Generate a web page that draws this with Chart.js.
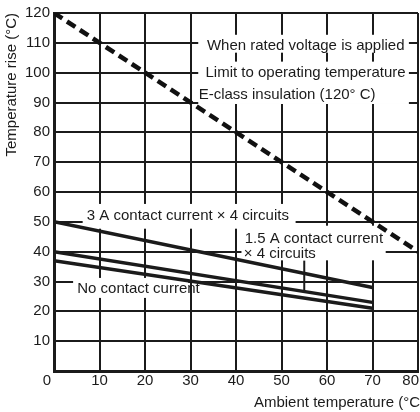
<!DOCTYPE html>
<html>
<head>
<meta charset="utf-8">
<script src="https://cdn.jsdelivr.net/npm/chart.js@4/dist/chart.umd.min.js"></script>
<style>
  html, body { margin: 0; padding: 0; background: #fff; overflow: hidden; }
  #wrap { width: 420px; height: 412px; overflow: hidden; }
  canvas { display: block; }
</style>
</head>
<body>
<div id="wrap"><canvas id="chart" width="440" height="412"></canvas></div>
<script>
// ambient temperature (°C) on x, temperature rise (°C) on y
const xTickValues = [0, 10, 20, 30, 40, 50, 60, 70, 80];
const xTickLabels = ['0', '10', '20', '30', '40', '50', '60', '70', '80'];

// E-class insulation limit (120 °C total)
const limitAmbient = [0, 80];
const limitRise = [120, 40];

// measured rise, 0 to 70 °C ambient
const loadAmbient = [0, 70];
const rise3A = [50, 28];
const rise15A = [40, 23];
const riseNoLoad = [37, 21];

const INK = '#1b1b1b';
const FONT = '"Liberation Sans", Arial, Helvetica, sans-serif';

const toPoints = (xs, ys) => xs.map((v, i) => ({ x: v, y: ys[i] }));

// callout text, placed in axis units
const notes = [
  { text: 'When rated voltage is applied', x: 33.6, y: 109.1 },
  { text: 'Limit to operating temperature', x: 33.3, y: 99.8 },
  { text: 'E-class insulation (120\u00b0 C)', x: 31.8, y: 92.6 },
  { text: '3 A contact current \u00d7 4 circuits', x: 7.2, y: 51.9 },
  { text: '1.5 A contact current', x: 41.9, y: 44.3 },
  { text: '\u00d7 4 circuits', x: 41.7, y: 39.3 },
  { text: 'No contact current', x: 5.1, y: 27.7 }
];
// white backing behind the callouts: [x0, yTop, x1, yBottom]
const noteBoxes = [
  [31.7, 112.7, 78.0, 106.7],
  [31.7, 103.7, 78.0, 89.5],
  [6.3, 56.0, 53.1, 47.7],
  [41.2, 48.7, 72.9, 37.1],
  [4.2, 31.2, 29.5, 24.5]
];
// leader from the "x 4 circuits" note down to the 1.5 A line
const leaderAt = 55;
const leaderTop = 37;

function riseAt(xs, ys, v) {
  const t = (v - xs[0]) / (xs[1] - xs[0]);
  return ys[0] + t * (ys[1] - ys[0]);
}

const calloutPlugin = {
  id: 'callouts',
  beforeDatasetsDraw(chart) {
    const { ctx, scales: { x, y } } = chart;
    ctx.save();
    ctx.fillStyle = '#fff';
    noteBoxes.forEach(b => {
      const x0 = x.getPixelForValue(b[0]);
      const x1 = x.getPixelForValue(b[2]);
      const y0 = y.getPixelForValue(b[1]);
      const y1 = y.getPixelForValue(b[3]);
      ctx.fillRect(x0, y0, x1 - x0, y1 - y0);
    });

    ctx.strokeStyle = INK;
    ctx.lineWidth = 2;
    ctx.beginPath();
    ctx.moveTo(x.getPixelForValue(leaderAt), y.getPixelForValue(leaderTop));
    ctx.lineTo(x.getPixelForValue(leaderAt), y.getPixelForValue(riseAt(loadAmbient, rise15A, leaderAt)));
    ctx.stroke();

    ctx.fillStyle = INK;
    ctx.font = '15px ' + FONT;
    ctx.textAlign = 'left';
    ctx.textBaseline = 'middle';
    notes.forEach(n => ctx.fillText(n.text, x.getPixelForValue(n.x), y.getPixelForValue(n.y)));
    ctx.restore();
  },
  afterDraw(chart) {
    const { ctx, chartArea, scales: { x } } = chart;
    ctx.save();
    ctx.fillStyle = INK;
    ctx.font = '15px ' + FONT;
    ctx.textBaseline = 'middle';
    const ty = chartArea.bottom + 10;
    xTickValues.forEach((v, i) => {
      const px = x.getPixelForValue(v);
      if (i === 0) {
        ctx.textAlign = 'right';
        ctx.fillText(xTickLabels[i], px - 3, ty);
      } else if (i === xTickValues.length - 1) {
        ctx.textAlign = 'right';
        ctx.fillText(xTickLabels[i], px + 1, ty);
      } else {
        ctx.textAlign = 'center';
        ctx.fillText(xTickLabels[i], px, ty);
      }
    });
    ctx.textAlign = 'right';
    ctx.fillText('Ambient temperature (\u00b0C)', chartArea.right + 7, chartArea.bottom + 32);
    ctx.restore();
  }
};

const lineStyle = {
  borderColor: INK,
  borderWidth: 3.5,
  pointRadius: 0,
  tension: 0,
  fill: false
};

new Chart(document.getElementById('chart').getContext('2d'), {
  type: 'line',
  data: {
    datasets: [
      {
        label: 'Limit',
        data: toPoints(limitAmbient, limitRise),
        ...lineStyle,
        borderColor: '#111',
        borderWidth: 4.5,
        borderDash: [10, 5.5]
      },
      { label: '3 A', data: toPoints(loadAmbient, rise3A), ...lineStyle },
      { label: '1.5 A', data: toPoints(loadAmbient, rise15A), ...lineStyle },
      { label: 'No load', data: toPoints(loadAmbient, riseNoLoad), ...lineStyle }
    ]
  },
  options: {
    responsive: false,
    animation: false,
    layout: { padding: { top: 9, right: 22, left: 0, bottom: 0 } },
    plugins: {
      legend: { display: false },
      tooltip: { enabled: false }
    },
    scales: {
      x: {
        type: 'linear',
        min: 0,
        max: 80,
        ticks: { display: false, stepSize: 10 },
        grid: { color: INK, lineWidth: 2, drawTicks: false },
        border: { color: INK, width: 3 },
        afterFit: (scale) => { scale.height = 41; }
      },
      y: {
        min: 0,
        max: 120,
        ticks: {
          stepSize: 10,
          padding: 4,
          color: INK,
          font: { family: FONT, size: 15 },
          callback: (v) => (v === 0 ? '' : v)
        },
        grid: { color: INK, lineWidth: 2, drawTicks: false },
        border: { color: INK, width: 3 },
        title: {
          display: true,
          text: 'Temperature rise (\u00b0C)',
          align: 'end',
          color: INK,
          font: { family: FONT, size: 15 },
          padding: { top: 3, bottom: 0 }
        },
        afterFit: (scale) => { scale.width = 54; }
      }
    }
  },
  plugins: [calloutPlugin]
});
</script>
</body>
</html>
